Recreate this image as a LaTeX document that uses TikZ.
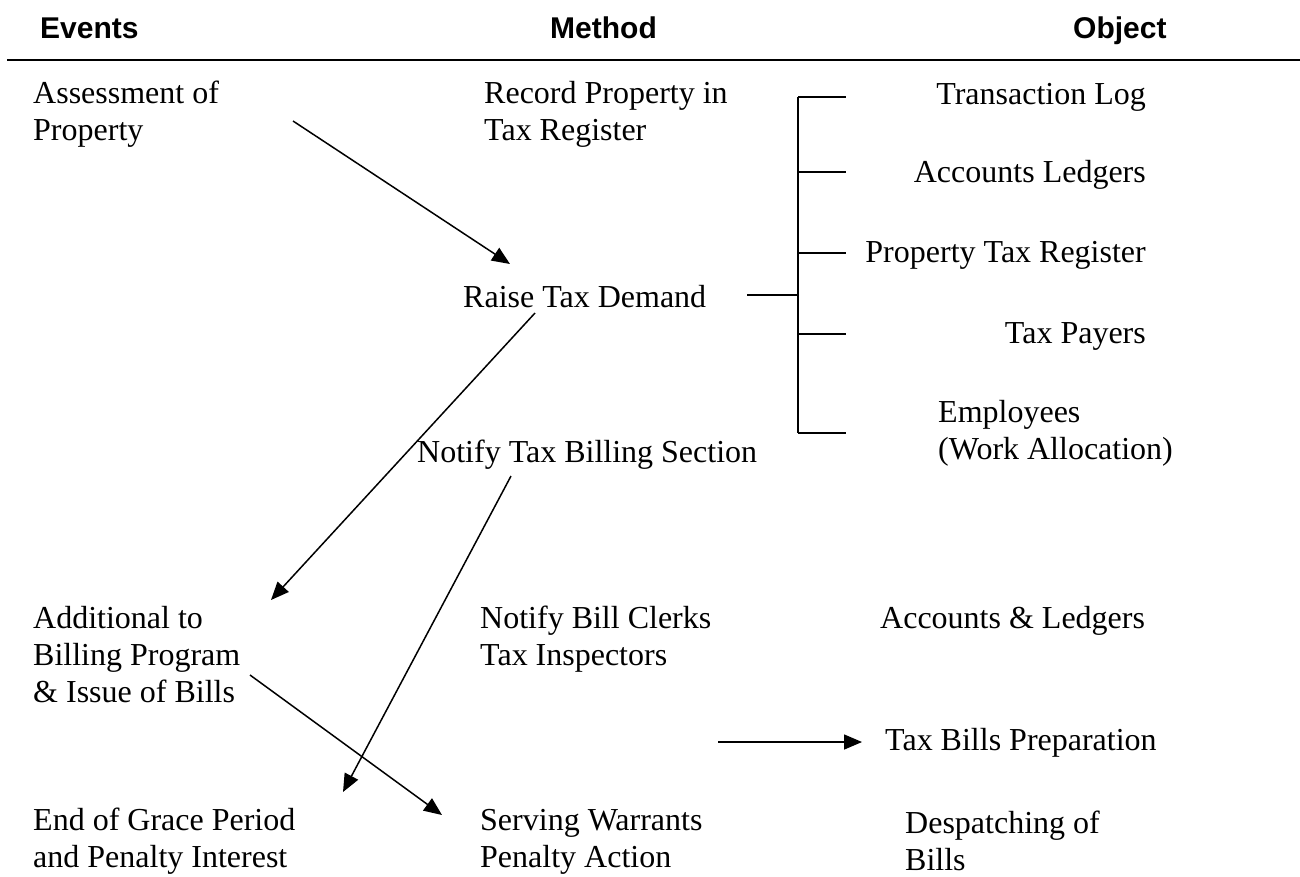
\documentclass[tikz,border=0pt]{standalone}
\usepackage{fontspec}
\setmainfont{Liberation Serif}
\newfontfamily\headfont{Liberation Sans}
\usetikzlibrary{positioning}
\usetikzlibrary{arrows.meta}

\begin{document}
\begin{tikzpicture}[x=1pt, y=-1pt, inner sep=0pt, align=left, font=\fontsize{32}{37}\selectfont]
        \useasboundingbox (0,0) rectangle (1300,876);
        % column heads
        \node[anchor=base west, font=\headfont\bfseries\fontsize{30}{36}\selectfont] (events) at (40,38) {Events};
        \node[anchor=base west, font=\headfont\bfseries\fontsize{30}{36}\selectfont] (method) at (550,38) {Method};
        \node[anchor=base west, font=\headfont\bfseries\fontsize{30}{36}\selectfont] (object) at (1073,38) {Object};
        \coordinate (ruleL) at (7,60);
        \coordinate (ruleR) at (1300,60);
        \draw[line width=2pt] (ruleL) -- (ruleR);
        % events (base = last line)
        \node[anchor=base west] (assess) at (33,140) {Assessment of\\Property};
        \node[anchor=base west] (addbill) at (33,702) {Additional to\\Billing Program\\\& Issue of Bills};
        \node[anchor=base west] (grace) at (33,867) {End of Grace Period\\and Penalty Interest};
        % methods
        \node[anchor=base west] (record) at (484,140) {Record Property in\\Tax Register};
        \node[anchor=base west] (raise) at (463,307) {Raise Tax Demand};
        \node[anchor=base west] (notify) at (417,462) {Notify Tax Billing Section};
        \node[anchor=base west] (clerks) at (480,665) {Notify Bill Clerks\\Tax Inspectors};
        \node[anchor=base west] (warrant) at (480,867) {Serving Warrants\\Penalty Action};
        % objects
        \node[anchor=base east] (txlog) at (1146,104) {Transaction Log};
        \node[anchor=base east] (ledgers) at (1146,182) {Accounts Ledgers};
        \node[anchor=base east] (register) at (1146,262) {Property Tax Register};
        \node[anchor=base east] (payers) at (1146,343) {Tax Payers};
        \node[anchor=base west] (staff) at (938,459) {Employees\\(Work Allocation)};
        \node[anchor=base west] (accled) at (880,628) {Accounts \& Ledgers};
        \node[anchor=base west] (billprep) at (885,750) {Tax Bills Preparation};
        \node[anchor=base west] (despatch) at (905,870) {Despatching of\\Bills};
        % bracket from raise to objects
        \coordinate (stub) at (747,295);
        \coordinate (spine) at (798,295);
        \draw[line width=1.5pt] (stub) -- (spine);
        \foreach \y [count=\i] in {97,172,253,334,433}
            \coordinate (tick\i) at (846,\y);
        \draw[line width=1.5pt] (spine |- tick1) -- (spine |- tick5);
        \foreach \i in {1,...,5}
            \draw[line width=1.5pt] (spine |- tick\i) -- (tick\i);
        % arrows
        \coordinate (a1s) at (293,121);
        \coordinate (a1e) at (510,264);
        \coordinate (a2s) at (535,313);
        \coordinate (a2e) at (271,600);
        \coordinate (a3s) at (511,476);
        \coordinate (a3e) at (343,792);
        \coordinate (a4s) at (250,675);
        \coordinate (a4e) at (442,815);
        \coordinate (a5s) at (718,742);
        \coordinate (a5e) at (862,742);
        \draw[-{Triangle[length=18pt,width=15pt]}, line width=1.5pt] (a1s) -- (a1e);
        \draw[-{Triangle[length=18pt,width=15pt]}, line width=1.5pt] (a2s) -- (a2e);
        \draw[-{Triangle[length=18pt,width=15pt]}, line width=1.5pt] (a3s) -- (a3e);
        \draw[-{Triangle[length=18pt,width=15pt]}, line width=1.5pt] (a4s) -- (a4e);
        \draw[-{Triangle[length=18pt,width=15pt]}, line width=1.5pt] (a5s) -- (a5e);
    \end{tikzpicture}
\end{document}
